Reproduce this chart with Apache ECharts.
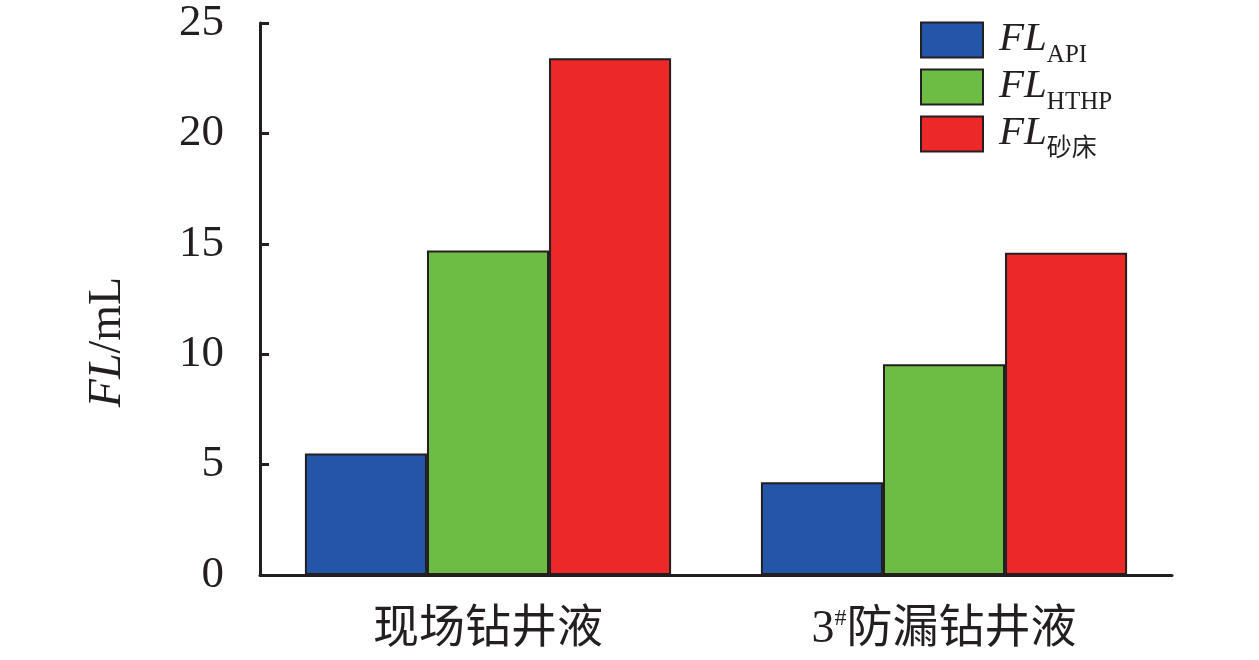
<!DOCTYPE html>
<html><head><meta charset="utf-8">
<script src="https://cdn.jsdelivr.net/npm/echarts@6/dist/echarts.min.js"></script>
<style>html,body{margin:0;padding:0;background:#fff}#c{width:1259px;height:660px}</style>
</head><body><div id="c"></div>
<script>
const categories = ['现场钻井液', '3{sup|#}防漏钻井液'];
const seriesNames = ['API', 'HTHP', '砂床'];
const apiValues = [5.5, 4.2];
const hthpValues = [14.7, 9.55];
const sandValues = [23.4, 14.6];
const yTicks = [0, 5, 10, 15, 20, 25];
const colors = ['#2356a8', '#6dbd45', '#ec2828'];

const serif = '"Liberation Serif","Noto Sans CJK SC",serif';
const ink = '#231f20';
const chart = echarts.init(document.getElementById('c'));
const values = [apiValues, hthpValues, sandValues];
chart.setOption({
  animation: false,
  grid: {left: 260, right: 87, top: 23, bottom: 85},
  legend: {
    orient: 'vertical', left: 915, top: 14,
    itemWidth: 62, itemHeight: 35, itemGap: -2,
    icon: 'rect',
    formatter: n => '{i|FL}{s|' + n + '}',
    textStyle: {
      padding: [0, 0, 0, 11],
      rich: {
        i: {fontFamily: serif, fontStyle: 'italic', fontSize: 41, color: ink, verticalAlign: 'bottom', lineHeight: 40},
        s: {fontFamily: serif, fontSize: 25, color: ink, verticalAlign: 'bottom', lineHeight: 30, padding: [0,0,-8,0]}
      }
    }
  },
  xAxis: {
    type: 'category', data: categories,
    axisLine: {lineStyle: {color: ink, width: 3}},
    axisTick: {show: false},
    axisLabel: {
      interval: 0,
      margin: 32, color: ink, fontFamily: serif, fontSize: 46,
      rich: {sup: {fontFamily: serif, fontSize: 24, verticalAlign: 'top', color: ink, lineHeight: 46, padding:[0,0,16,0]}}
    }
  },
  yAxis: {
    type: 'value', min: yTicks[0], max: yTicks[yTicks.length - 1], interval: 5,
    name: '{i|FL}{n|/mL}', nameLocation: 'middle', nameGap: 129,
    nameTextStyle: {
      padding: [0, 86, 0, 0],
      rich: {
        i: {fontFamily: serif, fontStyle: 'italic', fontSize: 46, color: ink},
        n: {fontFamily: serif, fontSize: 46, color: ink}
      }
    },
    axisLine: {show: true, lineStyle: {color: ink, width: 3}},
    axisTick: {show: true, inside: true, length: 9, lineStyle: {color: ink, width: 3}},
    axisLabel: {margin: 36, color: ink, fontFamily: serif, fontSize: 45},
    splitLine: {show: false}
  },
  series: seriesNames.map((n, i) => ({
    name: n, type: 'bar', data: values[i],
    barGap: '0%', barCategoryGap: '19.7%',
    itemStyle: {color: colors[i], borderColor: ink, borderWidth: 2}
  }))
});
</script></body></html>
